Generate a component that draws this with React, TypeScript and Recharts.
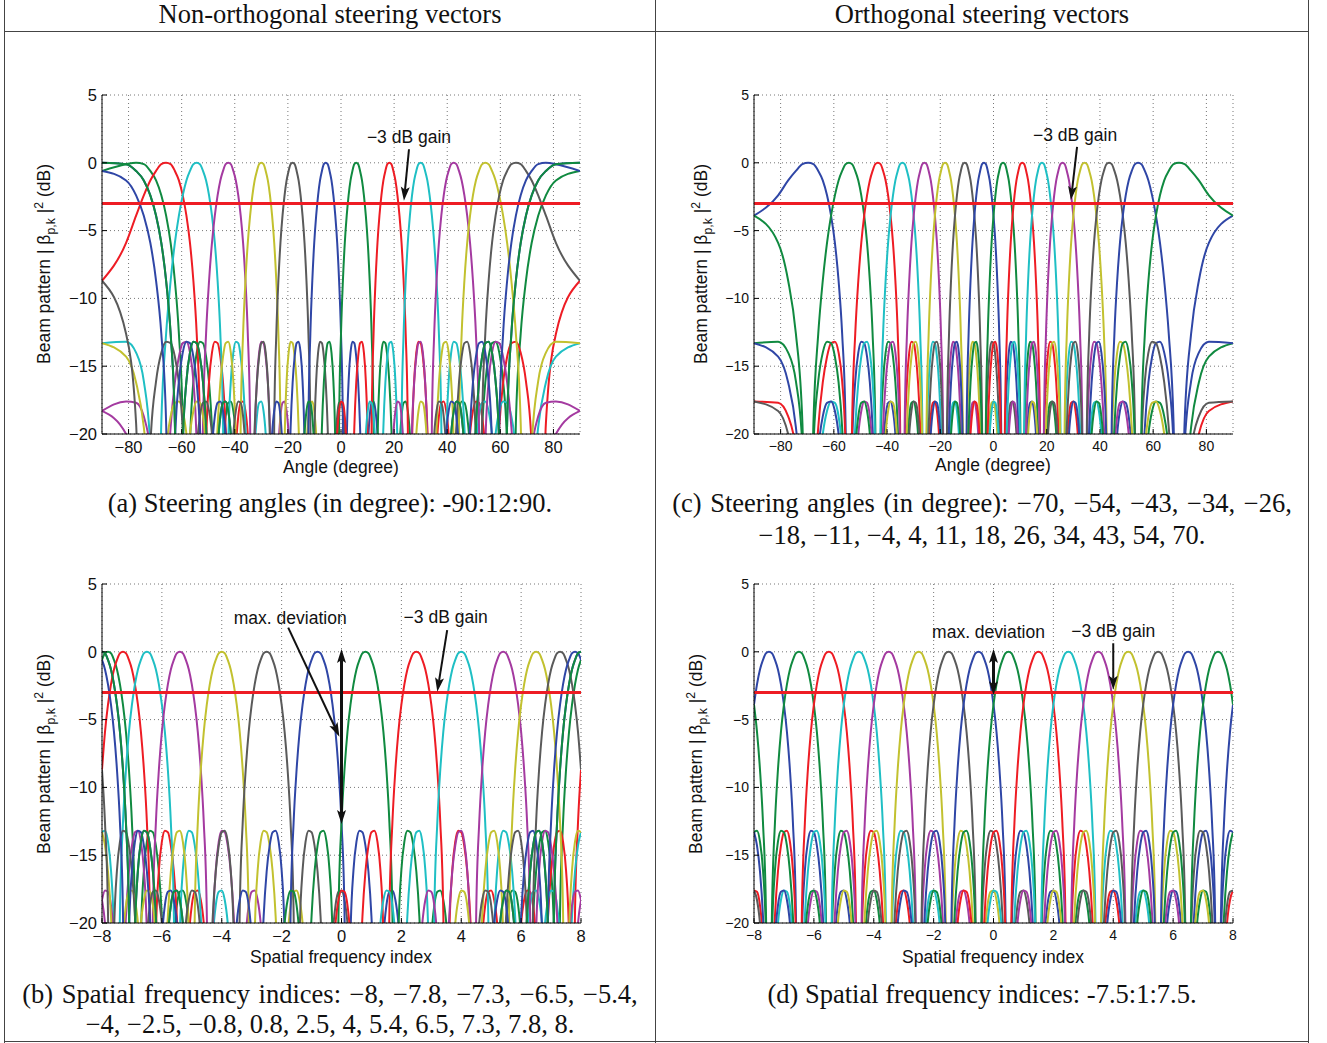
import React from "react";
import { LineChart, Line, XAxis, YAxis, CartesianGrid, ReferenceLine } from "recharts";

const SANS = "'Liberation Sans', Arial, sans-serif";
const SERIF = "'Liberation Serif', 'Times New Roman', serif";

// MATLAB-style colour cycle, beam k gets colour k % 7
const beamColors = ["#2f46a6", "#108a40", "#ee1c24", "#1fbfc4", "#a43aa0", "#c2c12f", "#5a5a5a"];

// spatial frequency indices of the 16 beams (captions of b and d; a and c are the same beams in degrees)
const nonOrthIndices = [-8, -7.8, -7.3, -6.5, -5.4, -4, -2.5, -0.8, 0.8, 2.5, 4, 5.4, 6.5, 7.3, 7.8, 8];
const orthIndices = [-7.5, -6.5, -5.5, -4.5, -3.5, -2.5, -1.5, -0.5, 0.5, 1.5, 2.5, 3.5, 4.5, 5.5, 6.5, 7.5];

// gain of one beam (dB) at 0, 0.1, 0.2 ... 3.0 index units from its steering index,
// read off panel (d); nulls are put well below the -20 dB floor
const profileStep = 0.1;
const profileDb = [
  0, -0.1, -0.6, -1.3, -2.4, -3.9, -5.9, -8.7, -12.6, -19.2, -40,
  -20.9, -16.1, -14.0, -13.2, -13.3, -14.3, -16.2, -19.5, -25.5, -40,
  -26.3, -21.1, -18.7, -17.7, -17.6, -18.3, -20.0, -23.1, -28.9, -40,
];

const angleTicks = [-80, -60, -40, -20, 0, 20, 40, 60, 80];
const indexTicks = [-8, -6, -4, -2, 0, 2, 4, 6, 8];
const dbTicks = [-20, -15, -10, -5, 0, 5];

type Pt = { x: number; db: number };

// lay the profile around a steering index (pattern repeats every 16 indices)
function beamSeries(center: number, asAngle: boolean): Pt[] {
  const pts: Pt[] = [];
  const n = profileDb.length - 1;
  for (const wrap of [-16, 0, 16]) {
    for (let i = -n; i <= n; i++) {
      const u = Math.round((center + wrap + i * profileStep) * 100) / 100;
      if (u < -8 || u > 8) continue;
      const x = asAngle ? (Math.asin(u / 8) * 180) / Math.PI : u;
      pts.push({ x, db: profileDb[Math.abs(i)] });
    }
  }
  return pts.sort((a, b) => a.x - b.x);
}

const fmt = (v: number) => (v < 0 ? "\u2212" + Math.abs(v) : String(v));

type Note = {
  from: [number, number];
  to: [number, number];
  heads: 1 | 2;
  width: number;
  text?: string;
  tdx?: number;
  tdy?: number;
};

function noteShape(n: Note, fontSize: number) {
  return (p: any) => {
    const { x1, y1, x2, y2 } = p;
    const dx = x2 - x1;
    const dy = y2 - y1;
    const len = Math.hypot(dx, dy) || 1;
    const ux = dx / len;
    const uy = dy / len;
    const nx = -uy;
    const ny = ux;
    const L = 14;
    const W = 4.5;
    const back = 3;
    const head = (tx: number, ty: number, sx: number, sy: number) =>
      [
        [tx, ty],
        [tx - sx * L + nx * W, ty - sy * L + ny * W],
        [tx - sx * (L - back), ty - sy * (L - back)],
        [tx - sx * L - nx * W, ty - sy * L - ny * W],
      ]
        .map((q) => q.join(","))
        .join(" ");
    const sx1 = n.heads === 2 ? x1 + ux * (L - back) : x1;
    const sy1 = n.heads === 2 ? y1 + uy * (L - back) : y1;
    return (
      <g>
        <line x1={sx1} y1={sy1} x2={x2 - ux * (L - back)} y2={y2 - uy * (L - back)} stroke="#111" strokeWidth={n.width} />
        <polygon points={head(x2, y2, ux, uy)} fill="#111" />
        {n.heads === 2 && <polygon points={head(x1, y1, -ux, -uy)} fill="#111" />}
        {n.text && (
          <text
            x={x1 + (n.tdx ?? 0)}
            y={y1 + (n.tdy ?? 0)}
            textAnchor="middle"
            dominantBaseline="central"
            fontFamily={SANS}
            fontSize={fontSize}
            fill="#111"
          >
            {n.text}
          </text>
        )}
      </g>
    );
  };
}

type PanelProps = {
  left: number;
  top: number;
  w: number;
  h: number;
  beams: number[];
  asAngle: boolean;
  notes: Note[];
  tickFont: number;
  noteFont: number;
};

function Panel(p: PanelProps) {
  const xDomain = p.asAngle ? [-90, 90] : [-8, 8];
  const xTicks = p.asAngle ? angleTicks : indexTicks;
  const tickStyle = { fontSize: p.tickFont, fill: "#111", fontFamily: SANS };
  return (
    <div style={{ position: "absolute", left: p.left - 60, top: p.top - 20 }}>
      <LineChart width={p.w + 80} height={p.h + 60} margin={{ top: 20, right: 20, bottom: 0, left: 0 }}>
        <CartesianGrid stroke="#777" strokeDasharray="1 3" />
        <XAxis
          dataKey="x"
          type="number"
          domain={xDomain}
          ticks={xTicks}
          interval={0}
          allowDataOverflow
          height={40}
          tick={tickStyle}
          tickFormatter={fmt}
          tickSize={-5}
          tickMargin={12}
          stroke="#000"
        />
        <XAxis
          xAxisId="top"
          orientation="top"
          type="number"
          domain={xDomain}
          ticks={xTicks}
          interval={0}
          allowDataOverflow
          height={0}
          mirror
          tick={false}
          tickSize={5}
          stroke="#000"
        />
        <YAxis
          type="number"
          domain={[-20, 5]}
          ticks={dbTicks}
          interval={0}
          allowDataOverflow
          width={60}
          tick={tickStyle}
          tickFormatter={fmt}
          tickSize={-5}
          tickMargin={10}
          stroke="#000"
        />
        <YAxis
          yAxisId="right"
          orientation="right"
          type="number"
          domain={[-20, 5]}
          ticks={dbTicks}
          interval={0}
          allowDataOverflow
          width={0}
          mirror
          tick={false}
          tickSize={5}
          stroke="#000"
        />
        {p.beams.map((c, k) => (
          <Line
            key={k}
            data={beamSeries(c, p.asAngle)}
            dataKey="db"
            type="monotone"
            stroke={beamColors[k % beamColors.length]}
            strokeWidth={2}
            dot={false}
            activeDot={false}
            isAnimationActive={false}
          />
        ))}
        <ReferenceLine y={-3} stroke="#ee1c24" strokeWidth={3} />
        {p.notes.map((n, i) => (
          <ReferenceLine
            key={"n" + i}
            segment={[
              { x: n.from[0], y: n.from[1] },
              { x: n.to[0], y: n.to[1] },
            ]}
            shape={noteShape(n, p.noteFont)}
          />
        ))}
      </LineChart>
    </div>
  );
}

function YLabel({ cx, cy, size }: { cx: number; cy: number; size: number }) {
  return (
    <div
      style={{
        position: "absolute",
        left: cx,
        top: cy,
        transform: "translate(-50%, -50%) rotate(-90deg)",
        whiteSpace: "nowrap",
        fontFamily: SANS,
        fontSize: size,
        color: "#111",
        lineHeight: 1,
      }}
    >
      Beam pattern | β<sub style={{ fontSize: "0.7em" }}>p,k</sub> |<sup style={{ fontSize: "0.7em" }}>2</sup> (dB)
    </div>
  );
}

function Txt({
  cx,
  cy,
  size,
  font,
  ws = 0,
  children,
}: {
  cx: number;
  cy: number;
  size: number;
  font: string;
  ws?: number;
  children: React.ReactNode;
}) {
  return (
    <div
      style={{
        position: "absolute",
        left: cx,
        top: cy,
        transform: "translate(-50%, -50%)",
        whiteSpace: "nowrap",
        fontFamily: font,
        fontSize: size,
        wordSpacing: ws,
        color: "#111",
        lineHeight: 1,
      }}
    >
      {children}
    </div>
  );
}

const rule = (l: number, t: number, w: number, h: number) => (
  <div style={{ position: "absolute", left: l, top: t, width: w, height: h, background: "#444" }} />
);

const notesA: Note[] = [{ from: [25.6, 1.0], to: [23.7, -2.8], heads: 1, width: 2, text: "\u22123 dB gain", tdx: 0, tdy: -12 }];
const notesB: Note[] = [
  { from: [-1.78, 1.78], to: [-0.07, -6.26], heads: 1, width: 2, text: "max. deviation", tdx: 2, tdy: -10 },
  { from: [0, 0.2], to: [0, -12.7], heads: 2, width: 3 },
  { from: [3.53, 1.6], to: [3.2, -2.94], heads: 1, width: 2, text: "\u22123 dB gain", tdx: -1.5, tdy: -13 },
];
const notesC: Note[] = [{ from: [31.4, 1.17], to: [29.1, -2.75], heads: 1, width: 2, text: "\u22123 dB gain", tdx: -2, tdy: -12 }];
const notesD: Note[] = [
  { from: [0, 0.2], to: [0, -3.2], heads: 2, width: 3, text: "max. deviation", tdx: -5, tdy: -17 },
  { from: [4, 0.63], to: [4, -2.8], heads: 1, width: 2, text: "\u22123 dB gain", tdx: 0, tdy: -12 },
];

export default function App() {
  return (
    <div style={{ position: "absolute", left: 0, top: 0, width: 1327, height: 1043, background: "#fff" }}>
      {rule(4, 0, 1, 1043)}
      {rule(1308, 0, 1, 1043)}
      {rule(655, 0, 1, 1043)}
      {rule(4, 31, 1305, 1)}
      {rule(4, 1041, 1305, 1)}

      <Txt cx={330} cy={14} size={26.5} font={SERIF}>Non-orthogonal steering vectors</Txt>
      <Txt cx={982} cy={14} size={26.5} font={SERIF}>Orthogonal steering vectors</Txt>

      <Panel left={102} top={95} w={478} h={339} beams={nonOrthIndices} asAngle notes={notesA} tickFont={16.5} noteFont={17.5} />
      <YLabel cx={45} cy={264} size={17.5} />
      <Txt cx={341} cy={468} size={17.5} font={SANS}>Angle (degree)</Txt>
      <Txt cx={330} cy={503} size={26.5} font={SERIF}>(a) Steering angles (in degree): -90:12:90.</Txt>

      <Panel left={754} top={95} w={479} h={339} beams={orthIndices} asAngle notes={notesC} tickFont={14} noteFont={17.5} />
      <YLabel cx={702} cy={264} size={17.5} />
      <Txt cx={993} cy={466} size={17.5} font={SANS}>Angle (degree)</Txt>
      <Txt cx={982} cy={503} size={26.5} font={SERIF} ws={2}>
        (c) Steering angles (in degree): −70, −54, −43, −34, −26,
      </Txt>
      <Txt cx={982} cy={535} size={26.5} font={SERIF}>
        −18, −11, −4, 4, 11, 18, 26, 34, 43, 54, 70.
      </Txt>

      <Panel left={102} top={584} w={479} h={339} beams={nonOrthIndices} asAngle={false} notes={notesB} tickFont={16.5} noteFont={17.5} />
      <YLabel cx={45} cy={754} size={17.5} />
      <Txt cx={341} cy={958} size={17.5} font={SANS}>Spatial frequency index</Txt>
      <Txt cx={330} cy={994} size={26.5} font={SERIF} ws={2}>
        (b) Spatial frequency indices: −8, −7.8, −7.3, −6.5, −5.4,
      </Txt>
      <Txt cx={330} cy={1024} size={26.5} font={SERIF}>
        −4, −2.5, −0.8, 0.8, 2.5, 4, 5.4, 6.5, 7.3, 7.8, 8.
      </Txt>

      <Panel left={754} top={584} w={479} h={339} beams={orthIndices} asAngle={false} notes={notesD} tickFont={14} noteFont={17.5} />
      <YLabel cx={697} cy={754} size={17.5} />
      <Txt cx={993} cy={958} size={17.5} font={SANS}>Spatial frequency index</Txt>
      <Txt cx={982} cy={994} size={26.5} font={SERIF}>(d) Spatial frequency indices: -7.5:1:7.5.</Txt>
    </div>
  );
}
